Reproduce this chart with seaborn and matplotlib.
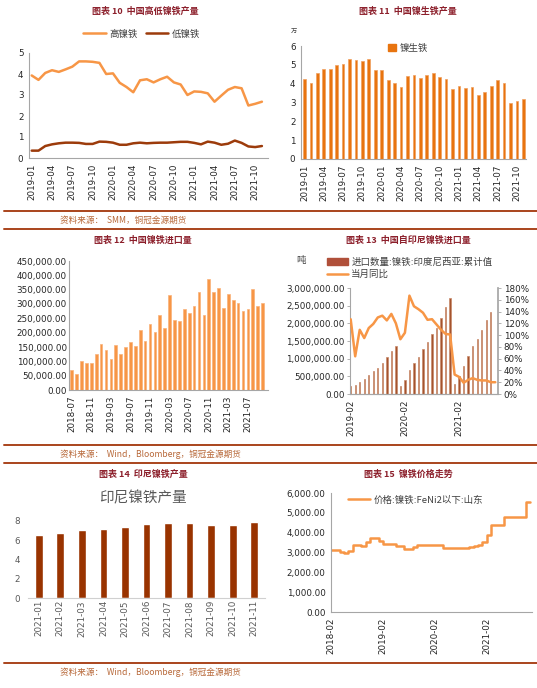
# %%
import numpy as np
import pandas as pd
import seaborn as sns
import matplotlib.pyplot as plt
from matplotlib.lines import Line2D
from matplotlib.patches import Patch
from matplotlib.ticker import FuncFormatter

# %%
# 图表10 / 11: 2019-01 ~ 2021-11
months_a = pd.date_range('2019-01-01', '2021-11-01', freq='MS').strftime('%Y-%m').tolist()
high_ni = [3.93, 3.72, 4.05, 4.18, 4.10, 4.22, 4.35, 4.60, 4.60, 4.58, 4.53, 4.00,
           4.03, 3.58, 3.38, 3.13, 3.70, 3.75, 3.60, 3.75, 3.87, 3.60, 3.50, 3.00,
           3.17, 3.15, 3.08, 2.68, 2.97, 3.25, 3.38, 3.32, 2.50, 2.58, 2.68]
low_ni = [0.35, 0.35, 0.57, 0.65, 0.70, 0.73, 0.73, 0.72, 0.67, 0.67, 0.78, 0.77,
          0.73, 0.63, 0.63, 0.70, 0.73, 0.70, 0.72, 0.73, 0.73, 0.75, 0.77, 0.77,
          0.72, 0.65, 0.78, 0.73, 0.63, 0.68, 0.83, 0.72, 0.55, 0.52, 0.57]
npi = [4.27, 4.05, 4.58, 4.80, 4.78, 4.97, 5.07, 5.33, 5.27, 5.23, 5.32, 4.75,
       4.75, 4.22, 4.02, 3.83, 4.42, 4.45, 4.32, 4.47, 4.58, 4.37, 4.27, 3.73,
       3.85, 3.78, 3.83, 3.38, 3.57, 3.90, 4.18, 4.02, 3.00, 3.07, 3.20]

# 图表12: 2018-07 ~ 2021-10
months_b = pd.date_range('2018-07-01', '2021-10-01', freq='MS').strftime('%Y-%m').tolist()
imports = [71, 56, 100, 93, 94, 124, 160, 138, 108, 156, 126, 150,
           167, 154, 210, 171, 231, 202, 261, 217, 330, 244, 240, 283,
           269, 293, 343, 261, 388, 343, 355, 287, 336, 314, 302, 276,
           283, 352, 294, 302]
imports = [v * 1000 for v in imports]

# 图表13: 2019-02 ~ 2021-10
months_c = pd.date_range('2019-02-01', '2021-10-01', freq='MS').strftime('%Y-%m').tolist()
indo_cum = [0.22, 0.26, 0.35, 0.43, 0.55, 0.64, 0.74, 0.88, 1.04, 1.23, 1.36,
            0.24, 0.41, 0.69, 0.88, 1.06, 1.27, 1.47, 1.71, 1.87, 2.15, 2.46, 2.72,
            0.29, 0.50, 0.80, 1.07, 1.35, 1.57, 1.80, 2.10, 2.33, np.nan]
indo_cum = [v * 1e6 for v in indo_cum]
indo_yoy = [127, 64, 109, 95, 112, 119, 130, 133, 125, 136, 120,
            93, 104, 167, 149, 144, 138, 126, 127, 118, 109, 102, 101,
            33, 29, 19, 24, 27, 24, 23, 23, 20, 20]
indo_yoy = [v / 100 for v in indo_yoy]

# 图表14: 2021-01 ~ 2021-11
months_d = ['2021-01', '2021-02', '2021-03', '2021-04', '2021-05', '2021-06',
            '2021-07', '2021-08', '2021-09', '2021-10', '2021-11']
indo_out = [6.5, 6.8, 7.1, 7.2, 7.4, 7.7, 7.8, 7.8, 7.6, 7.6, 7.9]

# 图表15: 2018-02 ~ 2021-12 (月度)
months_e = pd.date_range('2018-02-01', '2021-12-01', freq='MS').strftime('%Y-%m').tolist()
price = [3150, 3150, 3050, 2950, 3100, 3400, 3400, 3320, 3550, 3750, 3750, 3600,
         3430, 3430, 3430, 3340, 3340, 3160, 3200, 3300, 3380, 3380, 3380, 3380,
         3380, 3380, 3240, 3240, 3240, 3240, 3240, 3240, 3300, 3320, 3400, 3550,
         3900, 4400, 4400, 4400, 4770, 4770, 4770, 4770, 4770, 5540, 5540]

# %%
sns.set_theme(style='white')
plt.rcParams['font.family'] = ['DejaVu Sans', 'Noto Sans CJK SC']
plt.rcParams['axes.unicode_minus'] = False

W, H = 537, 688
fig = plt.figure(figsize=(W / 100, H / 100), dpi=100)

title_c = '#8C1F2B'
rule_c = '#A9441C'
src_c = '#B8693A'
axis_c = '#A6A6A6'
text_c = '#262626'
cjk = ['Noto Sans CJK SC', 'DejaVu Sans']


def add_ax(l, t, r, b):
    return fig.add_axes([l / W, 1 - b / H, (r - l) / W, (b - t) / H])


def style(ax, labelcolor=text_c):
    for s in ['top', 'right']:
        ax.spines[s].set_visible(False)
    for s in ['left', 'bottom']:
        ax.spines[s].set_color(axis_c)
        ax.spines[s].set_linewidth(0.8)
    ax.tick_params(axis='both', which='both', direction='out', length=2.5, width=0.6,
                   color=axis_c, labelsize=6.3, labelcolor=labelcolor, pad=1.5)
    ax.set_xlabel('')
    ax.set_ylabel('')
    ax.grid(False)


def ftext(x, y, s, **kw):
    fig.text(x / W, 1 - y / H, s, **kw)


def hrule(y, x0=4, x1=537):
    fig.add_artist(Line2D([x0 / W, x1 / W], [1 - y / H, 1 - y / H], color=rule_c, lw=1.4))


# 分隔线与来源
for y in [211, 229, 445, 463, 663]:
    hrule(y)
ftext(60, 220, '资料来源：  SMM，铜冠金源期货', fontsize=6.2, color=src_c, va='center', family=cjk)
ftext(60, 454, '资料来源：  Wind，Bloomberg，铜冠金源期货', fontsize=6.2, color=src_c, va='center', family=cjk)
ftext(60, 672, '资料来源：  Wind，Bloomberg，铜冠金源期货', fontsize=6.2, color=src_c, va='center', family=cjk)

# 标题
titles = [(145, 11, '图表 10  中国高低镍铁产量'), (408, 11, '图表 11  中国镍生铁产量'),
          (143, 240, '图表 12  中国镍铁进口量'), (408, 240, '图表 13  中国自印尼镍铁进口量'),
          (143, 474, '图表 14  印尼镍铁产量'), (408, 474, '图表 15  镍铁价格走势')]
for x, y, s in titles:
    ftext(x, y, s, fontsize=6.5, color=title_c, fontweight='bold', ha='center', va='center', family=cjk)

# %% 图表10
ax = add_ax(29, 53, 268, 158)
df10 = pd.DataFrame({'x': range(len(months_a)), '高镍铁': high_ni, '低镍铁': low_ni})
df10 = df10.melt('x', var_name='品种', value_name='产量')
pal10 = {'高镍铁': '#F79646', '低镍铁': '#9C3B0B'}
sns.lineplot(data=df10, x='x', y='产量', hue='品种', palette=pal10, linewidth=1.8, ax=ax, legend=False)
ax.set_xlim(-0.4, 34.9)
ax.set_ylim(0, 5)
ax.set_yticks(range(0, 6))
ax.set_xticks(range(0, len(months_a), 3))
ax.set_xticklabels(months_a[::3], rotation=90)
style(ax)
handles = [Line2D([], [], color=pal10[k], lw=1.8) for k in pal10]
fig.legend(handles, list(pal10), loc='center', bbox_to_anchor=(142 / W, 1 - 34 / H), ncol=2,
           frameon=False, prop={'family': cjk, 'size': 6.8}, labelcolor='#404040',
           handlelength=2.4, columnspacing=0.8, handletextpad=0.4)

# %% 图表11
ax = add_ax(301, 46, 526, 159)
sns.barplot(x=list(range(len(npi))), y=npi, color='#E8740F', saturation=1, width=0.42,
            edgecolor='#F0A060', linewidth=0.5, ax=ax)
ax.set_xlim(-0.53, 34.4)
ax.set_ylim(0, 6)
ax.set_yticks(range(0, 7))
ax.set_xticks(range(0, len(months_a), 3))
ax.set_xticklabels(months_a[::3], rotation=90)
style(ax)
ftext(291, 31, '万', fontsize=4.5, color='#404040', va='center', family=cjk)
ax.legend([Patch(color='#E8740F')], ['镍生铁'], loc='center', bbox_to_anchor=((408 - 301) / 225, (159 - 48) / 113),
          frameon=False, prop={'family': cjk, 'size': 6.8}, labelcolor='#404040',
          handlelength=0.8, handleheight=0.8, handletextpad=0.4)

# %% 图表12
ax = add_ax(69, 261, 268, 390)
sns.barplot(x=list(range(len(imports))), y=imports, color='#F79646', saturation=1, width=0.55,
            edgecolor='#F9B27A', linewidth=0.5, ax=ax)
ax.set_xlim(-0.55, 40.1)
ax.set_ylim(0, 450000)
ax.set_yticks(range(0, 450001, 50000))
ax.yaxis.set_major_formatter(FuncFormatter(lambda v, p: f'{v:,.2f}'))
ax.set_xticks(range(0, len(imports), 4))
ax.set_xticklabels(months_b[::4], rotation=90)
style(ax)
ax.tick_params(axis='y', length=0)

# %% 图表13
ax = add_ax(350, 288, 498, 394)
sns.barplot(x=list(range(len(indo_cum))), y=indo_cum, color='#A4532E', saturation=1, width=0.3,
            edgecolor='#C98A6A', linewidth=0.5, ax=ax)
ax.set_xlim(-0.15, 32.6)
ax.set_ylim(0, 3000000)
ax.set_yticks(range(0, 3000001, 500000))
ax.yaxis.set_major_formatter(FuncFormatter(lambda v, p: f'{v:,.2f}'))
ax.set_xticks([0, 12, 24])
ax.set_xticklabels([months_c[0], months_c[12], months_c[24]], rotation=90)
style(ax)
ax2 = ax.twinx()
sns.lineplot(x=list(range(len(indo_yoy))), y=indo_yoy, color='#F79646', linewidth=1.8, ax=ax2)
ax2.set_ylim(0, 1.8)
ax2.set_yticks(np.arange(0, 1.81, 0.2))
ax2.yaxis.set_major_formatter(FuncFormatter(lambda v, p: f'{v:.0%}'))
style(ax2)
ax2.spines['right'].set_visible(True)
ax2.spines['right'].set_color(axis_c)
ax2.spines['left'].set_visible(False)
ftext(296, 260, '吨', fontsize=6.8, color='#404040', va='center', family=cjk)
fig.legend([Patch(color='#B0503A'), Line2D([], [], color='#F79646', lw=1.8)],
           ['进口数量:镍铁:印度尼西亚:累计值', '当月同比'], loc='upper left',
           bbox_to_anchor=(322 / W, 1 - 253 / H), frameon=False,
           prop={'family': cjk, 'size': 6.8}, labelcolor='#404040',
           handlelength=2.2, handleheight=0.7, handletextpad=0.4, labelspacing=0.35, borderpad=0)

# %% 图表14
ax = add_ax(28, 521, 265, 598)
sns.barplot(x=months_d, y=indo_out, color='#993300', saturation=1, width=0.36, ax=ax)
ax.set_xlim(-0.5, 10.5)
ax.set_ylim(0, 8)
ax.set_yticks(range(0, 9, 2))
style(ax, labelcolor='#595959')
ax.spines['left'].set_visible(False)
ax.spines['bottom'].set_color('#D0D0D0')
ax.tick_params(axis='y', length=0, pad=6)
ax.tick_params(axis='x', which='major', length=0, rotation=90)
ax.set_xticks(np.arange(-0.5, 10.6, 1), minor=True)
ax.tick_params(axis='x', which='minor', length=3, color='#D0D0D0')
ftext(143, 498, '印尼镍铁产量', fontsize=10.5, color='#595959', ha='center', va='center', family=cjk)

# %% 图表15
ax = add_ax(331, 493, 532, 612)
sns.lineplot(x=list(range(len(price))), y=price, color='#F79646', linewidth=1.8,
             drawstyle='steps-post', ax=ax)
ax.set_xlim(0, 46.5)
ax.set_ylim(0, 6000)
ax.set_yticks(range(0, 6001, 1000))
ax.yaxis.set_major_formatter(FuncFormatter(lambda v, p: f'{v:,.2f}'))
ax.set_xticks([0, 12, 24, 36])
ax.set_xticklabels([months_e[0], months_e[12], months_e[24], months_e[36]], rotation=90)
style(ax)
ax.legend([Line2D([], [], color='#F79646', lw=1.8)], ['价格:镍铁:FeNi2以下:山东'], loc='center left',
          bbox_to_anchor=(8 / 201, (612 - 500) / 119), frameon=False,
          prop={'family': cjk, 'size': 6.8}, labelcolor='#404040', handlelength=2.4, handletextpad=0.4)

fig.savefig('out.png', dpi=100)
